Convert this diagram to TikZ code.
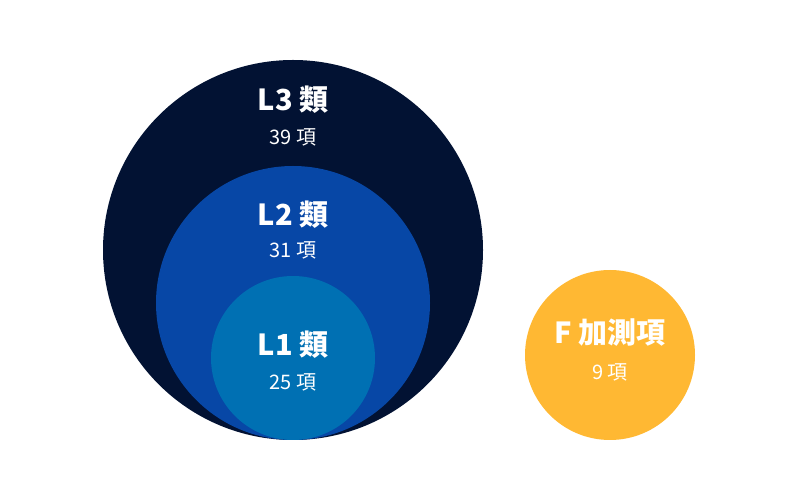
\documentclass[tikz,border=0pt]{standalone}
\usepackage{fontspec}
\setmainfont{Noto Sans CJK TC}
\definecolor{navy}{HTML}{021233}
\definecolor{midblue}{HTML}{0747A6}
\definecolor{lightblue}{HTML}{0070B3}
\definecolor{amber}{HTML}{FFB833}
\begin{document}
\begin{tikzpicture}[x=1pt,y=1pt,
    title/.style={text=white,font=\fontsize{29}{30}\selectfont\bfseries},
    count/.style={text=white,font=\fontsize{20}{22}\selectfont}]
    \useasboundingbox (0,0) rectangle (800,500);

    % circles
    \fill[navy] (293,250) circle (190);
    \fill[midblue] (293,197) circle (137);
    \fill[lightblue] (293,142) circle (82);
    \fill[amber] (610,145) circle (85);

    % labels
    \node[title] (l3) at (293,400) {L3 類};
    \node[count] (l3n) at (293,363) {39 項};
    \node[title] (l2) at (293,285) {L2 類};
    \node[count] (l2n) at (293,250) {31 項};
    \node[title] (l1) at (293,155) {L1 類};
    \node[count] (l1n) at (293,118) {25 項};
    \node[title] (f) at (610,167) {F 加測項};
    \node[count] (fn) at (610,128) {9 項};
\end{tikzpicture}
\end{document}
